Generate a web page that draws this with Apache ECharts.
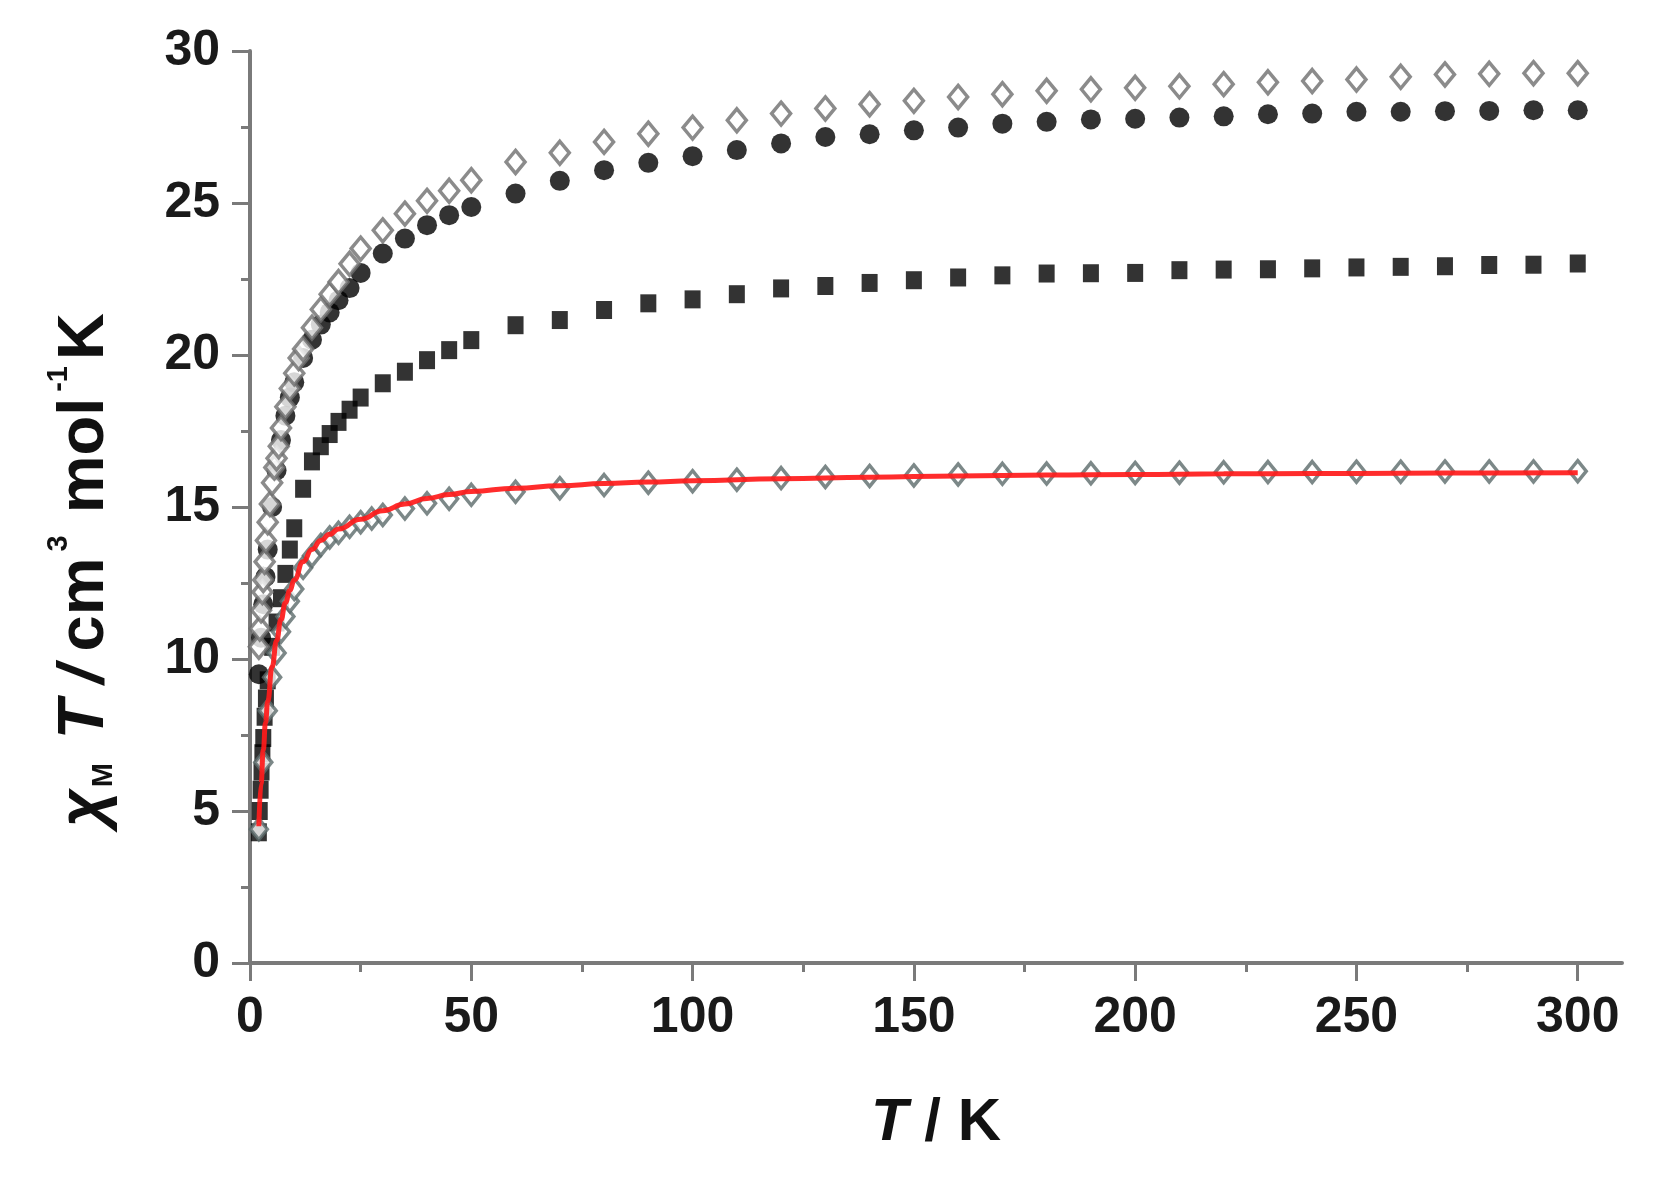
<!DOCTYPE html>
<html>
<head>
<meta charset="utf-8">
<script src="https://cdn.jsdelivr.net/npm/echarts@6/dist/echarts.min.js"></script>
<style>
html,body{margin:0;padding:0;background:#fff;}
#chart{width:1664px;height:1190px;}
</style>
</head>
<body>
<div id="chart"></div>
<script>
// ---- data ----
var xTickValues = [0, 50, 100, 150, 200, 250, 300];
var xMinorTickValues = [25, 75, 125, 175, 225, 275];

var highT = [60, 70, 80, 90, 100, 110, 120, 130, 140, 150, 160, 170, 180, 190, 200, 210, 220, 230, 240, 250, 260, 270, 280, 290, 300];

// open diamonds (top series)
var openDiaT = [2, 2.2, 2.5, 2.8, 3, 3.3, 3.6, 4, 4.5, 5, 5.5, 6, 6.5, 7, 8, 9, 10, 11, 12, 14, 16, 18, 20, 22.5, 25, 30, 35, 40, 45, 50];
var openDiaV = [10.4, 11.0, 11.6, 12.2, 12.6, 13.2, 13.9, 14.5, 15.1, 15.8, 16.3, 16.6, 17.0, 17.6, 18.3, 18.9, 19.4, 19.9, 20.2, 20.9, 21.5, 22.0, 22.4, 23.0, 23.5, 24.1, 24.65, 25.07, 25.4, 25.75];
var openDiaHighV = [26.35, 26.65, 27.01, 27.28, 27.48, 27.72, 27.94, 28.11, 28.25, 28.36, 28.49, 28.58, 28.69, 28.74, 28.79, 28.84, 28.91, 28.97, 29.01, 29.06, 29.15, 29.23, 29.25, 29.27, 29.27];

// filled circles
var circT = [2, 2.5, 3, 3.5, 4, 5, 6, 7, 8, 9, 10, 12, 14, 16, 18, 20, 22.5, 25, 30, 35, 40, 45, 50];
var circV = [9.5, 10.7, 11.8, 12.7, 13.6, 15.0, 16.2, 17.2, 18.0, 18.6, 19.1, 19.9, 20.5, 21.0, 21.4, 21.8, 22.2, 22.7, 23.34, 23.83, 24.27, 24.6, 24.87];
var circHighV = [25.31, 25.73, 26.08, 26.32, 26.54, 26.74, 26.96, 27.17, 27.26, 27.39, 27.48, 27.61, 27.67, 27.75, 27.77, 27.81, 27.85, 27.92, 27.94, 28.0, 28.0, 28.02, 28.03, 28.05, 28.05];

// filled squares
var sqT = [2, 2.2, 2.4, 2.6, 2.8, 3, 3.3, 3.6, 4, 5, 6, 7, 8, 9, 10, 12, 14, 16, 18, 20, 22.5, 25, 30, 35, 40, 45, 50];
var sqV = [4.3, 5.0, 5.7, 6.3, 6.9, 7.4, 8.1, 8.7, 9.3, 10.4, 11.2, 12.0, 12.8, 13.6, 14.3, 15.6, 16.5, 17.0, 17.4, 17.8, 18.2, 18.6, 19.07, 19.45, 19.83, 20.16, 20.49];
var sqHighV = [20.98, 21.15, 21.48, 21.70, 21.83, 22.0, 22.19, 22.27, 22.37, 22.46, 22.55, 22.62, 22.68, 22.69, 22.70, 22.79, 22.81, 22.82, 22.85, 22.88, 22.90, 22.92, 22.96, 22.97, 23.01];

// grey diamonds (bottom series)
var lowDiaT = [2, 3, 4, 5, 6, 7, 8, 9, 10, 12, 14, 16, 18, 20, 22.5, 25, 27.5, 30, 35, 40, 45, 50];
var lowDiaV = [4.4, 6.6, 8.3, 9.4, 10.2, 10.9, 11.4, 11.9, 12.3, 13.0, 13.4, 13.75, 14.0, 14.15, 14.35, 14.5, 14.62, 14.74, 14.95, 15.12, 15.27, 15.4];
var lowDiaHighV = [15.50, 15.62, 15.72, 15.80, 15.85, 15.90, 15.95, 15.99, 16.02, 16.04, 16.07, 16.09, 16.10, 16.11, 16.12, 16.13, 16.14, 16.15, 16.15, 16.16, 16.16, 16.17, 16.17, 16.17, 16.18];

// red fit curve
var fitT = [2, 2.5, 3, 3.5, 4, 5, 6, 7, 8, 9, 10, 12, 14, 16, 18, 20, 25, 30, 35, 40, 45, 50, 60, 70, 80, 90, 100, 120, 140, 160, 180, 200, 220, 240, 260, 280, 300];
var fitV = [4.5, 5.9, 7.0, 7.9, 8.6, 9.75, 10.6, 11.3, 11.85, 12.25, 12.6, 13.2, 13.6, 13.9, 14.1, 14.28, 14.6, 14.88, 15.1, 15.28, 15.41, 15.51, 15.62, 15.7, 15.77, 15.82, 15.86, 15.93, 15.98, 16.02, 16.05, 16.07, 16.09, 16.10, 16.11, 16.12, 16.13];

function pairs(ts, vs) {
  var out = [];
  for (var i = 0; i < ts.length; i++) out.push([ts[i], vs[i]]);
  return out;
}

var FONT = '"Liberation Sans", Arial, Helvetica, sans-serif';
var AXIS_COLOR = '#7a7a7a';

function big(extra) {
  var s = {fontFamily: FONT, fontSize: 65, fontWeight: 'bold', color: '#111', lineHeight: 74, verticalAlign: 'bottom'};
  for (var k in extra) s[k] = extra[k];
  return s;
}
function small(extra) {
  var s = {fontFamily: FONT, fontSize: 29, fontWeight: 'bold', color: '#111', lineHeight: 42};
  for (var k in extra) s[k] = extra[k];
  return s;
}

var chart = echarts.init(document.getElementById('chart'), null, {renderer: 'canvas'});
chart.setOption({
  animation: false,
  backgroundColor: '#ffffff',
  grid: {left: 250, right: 42, top: 51, bottom: 227, containLabel: false},
  xAxis: [{
    type: 'value', min: 0, max: 310, interval: 50,
    name: '{it|T}{n| / K}',
    nameLocation: 'middle', nameGap: 130,
    nameTextStyle: {
      rich: {
        it: {fontFamily: FONT, fontSize: 60, fontStyle: 'italic', fontWeight: 'bold', color: '#111'},
        n: {fontFamily: FONT, fontSize: 60, fontWeight: 'bold', color: '#111'}
      }
    },
    axisLine: {show: true, onZero: false, lineStyle: {color: AXIS_COLOR, width: 4}},
    axisTick: {show: true, inside: false, length: 18, customValues: xTickValues, lineStyle: {color: AXIS_COLOR, width: 3}},
    axisLabel: {show: true, margin: 30, customValues: xTickValues, fontFamily: FONT, fontSize: 50, fontWeight: 'bold', color: '#1a1a1a'},
    splitLine: {show: false}
  }, {
    type: 'value', min: 0, max: 310, position: 'bottom',
    axisLine: {show: false},
    axisTick: {show: true, inside: false, length: 9, customValues: xMinorTickValues, lineStyle: {color: AXIS_COLOR, width: 3}},
    axisLabel: {show: false},
    splitLine: {show: false}
  }],
  yAxis: {
    type: 'value', min: 0, max: 30, interval: 5,
    name: '{chi|χ}{sub|M}{t|T}{sl|/}{cm|cm}{s3|3}{mol|mol}{sm1|-1}{k|K}',
    nameLocation: 'middle', nameGap: 132, nameRotate: 90,
    nameTextStyle: {
      padding: [0, 126, 0, 0],
      rich: {
        chi: big({fontStyle: 'italic'}),
        sub: small({verticalAlign: 'bottom', padding: [0, 0, 0, 2]}),
        t: big({fontStyle: 'italic', padding: [0, 0, 0, 24]}),
        sl: big({fontStyle: 'italic', padding: [0, 0, 0, 16]}),
        cm: big({padding: [0, 0, 0, 14]}),
        s3: small({verticalAlign: 'top', padding: [0, 0, 0, 6]}),
        mol: big({padding: [0, 0, 0, 22]}),
        sm1: small({verticalAlign: 'top', padding: [0, 0, 0, 6]}),
        k: big({padding: [0, 0, 0, 6]})
      }
    },
    axisLine: {show: true, onZero: false, lineStyle: {color: AXIS_COLOR, width: 4}},
    axisTick: {show: true, inside: false, length: 18, lineStyle: {color: AXIS_COLOR, width: 3}},
    minorTick: {show: true, splitNumber: 2, length: 9, lineStyle: {color: AXIS_COLOR, width: 3}},
    axisLabel: {margin: 30, fontFamily: FONT, fontSize: 50, fontWeight: 'bold', color: '#1a1a1a'},
    splitLine: {show: false},
    minorSplitLine: {show: false}
  },
  series: [
    {
      type: 'scatter', name: 'squares', xAxisIndex: 0,
      symbol: 'rect', symbolSize: [16, 18],
      itemStyle: {color: '#000000'},
      data: pairs(sqT, sqV).concat(pairs(highT, sqHighV)), z: 2
    },
    {
      type: 'scatter', name: 'circles', xAxisIndex: 0,
      symbol: 'circle', symbolSize: 20,
      itemStyle: {color: '#000000'},
      data: pairs(circT, circV).concat(pairs(highT, circHighV)), z: 3
    },
    {
      type: 'scatter', name: 'open diamonds', xAxisIndex: 0,
      symbol: 'diamond', symbolSize: [19, 23],
      itemStyle: {color: '#ffffff', borderColor: '#6e6e6e', borderWidth: 3.5},
      data: pairs(openDiaT, openDiaV).concat(pairs(highT, openDiaHighV)), z: 4
    },
    {
      type: 'scatter', name: 'grey diamonds', xAxisIndex: 0,
      symbol: 'diamond', symbolSize: [17, 21],
      itemStyle: {color: '#ffffff', borderColor: '#5b6a6a', borderWidth: 3.5},
      data: pairs(lowDiaT, lowDiaV).concat(pairs(highT, lowDiaHighV)), z: 5
    },
    {
      type: 'line', name: 'fit', xAxisIndex: 0,
      showSymbol: false, smooth: true, smoothMonotone: 'x',
      lineStyle: {color: '#ff1a1a', width: 5, opacity: 0.92},
      data: pairs(fitT, fitV), z: 6
    }
  ]
});
</script>
</body>
</html>
